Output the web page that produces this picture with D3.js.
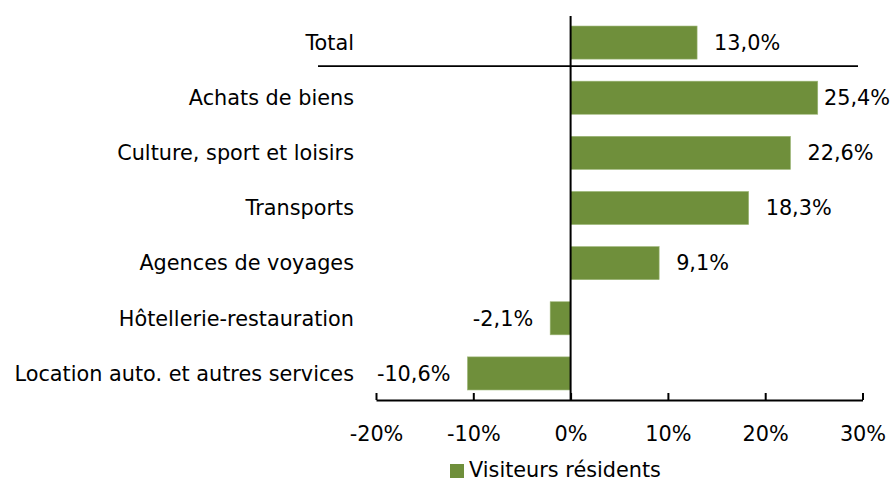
<!DOCTYPE html>
<html><head><meta charset="utf-8">
<script src="https://cdn.jsdelivr.net/npm/d3@7"></script>
<style>body{margin:0;background:#fff}svg{display:block}text{font-family:"DejaVu Sans",sans-serif;fill:#000}</style>
</head><body><svg id="c" width="896" height="483"></svg>
<script>
const categories = ["Total","Achats de biens","Culture, sport et loisirs","Transports","Agences de voyages","Hôtellerie-restauration","Location auto. et autres services"];
const values = [13.0, 25.4, 22.6, 18.3, 9.1, -2.1, -10.6];
const xTicks = [-20, -10, 0, 10, 20, 30];
const seriesName = "Visiteurs résidents";

const W = 896, H = 483, FS = 20.8;
const svg = d3.select("#c");
const x = d3.scaleLinear().domain([-20, 30]).range([376, 862.5]);
const y = d3.scaleBand().domain(categories).range([15, 401]).paddingInner(0.4).paddingOuter(0.2);
const fr = d3.formatLocale({decimal:",", thousands:" ", grouping:[3], currency:["","€"], minus:"-"});
const fmt = v => fr.format(".1f")(v) + "%";
const color = "#6f8f3b";

// bars
svg.selectAll("rect.bar").data(values).enter().append("rect")
  .attr("class","bar")
  .attr("x", d => x(Math.min(0,d)))
  .attr("width", d => Math.abs(x(d)-x(0)))
  .attr("y", (d,i) => y(categories[i]))
  .attr("height", y.bandwidth())
  .attr("fill", color).attr("stroke","#9db777").attr("stroke-width",0.6);

// category labels
svg.selectAll("text.cat").data(categories).enter().append("text")
  .attr("class","cat").attr("x", 354).attr("y", d => y(d)+y.bandwidth()/2)
  .attr("dy","0.35em").attr("text-anchor","end").attr("font-size",FS).text(d=>d);

// value labels
const gap = 17;
svg.selectAll("text.val").data(values).enter().append("text")
  .attr("class","val")
  .attr("y", (d,i) => y(categories[i])+y.bandwidth()/2).attr("dy","0.35em")
  .attr("font-size",FS)
  .attr("text-anchor", d => d<0 ? "end" : "start")
  .text(fmt)
  .each(function(d){
    const el = d3.select(this);
    let px = d<0 ? x(d)-gap : x(d)+gap;
    if (d>=0) { const w = this.getComputedTextLength(); if (px + w > W - 6) px = W - 6 - w; }
    el.attr("x", px);
  });

// vertical axis at zero
svg.append("line").attr("x1",x(0)).attr("x2",x(0)).attr("y1",16).attr("y2",401)
  .attr("stroke","#000").attr("stroke-width",2);
// separator under Total
const sepY = y(categories[1]) - 15;
svg.append("line").attr("x1",318).attr("x2",858).attr("y1",sepY).attr("y2",sepY)
  .attr("stroke","#000").attr("stroke-width",1.6);

// bottom axis
const axisY = 400;
const ax = svg.append("g").attr("transform",`translate(0,${axisY})`)
  .call(d3.axisBottom(x).tickValues(xTicks).tickSize(-7).tickSizeOuter(0).tickFormat(d=>d+"%"));
ax.select(".domain").attr("stroke","#000").attr("stroke-width",2);
ax.selectAll(".tick line").attr("stroke","#000").attr("stroke-width",2);
ax.selectAll(".tick text").attr("font-size",FS).attr("font-family","DejaVu Sans").attr("fill","#000").attr("y",41).attr("dy",0);

// legend
svg.append("rect").attr("x",450).attr("y",464).attr("width",14).attr("height",14).attr("fill",color);
svg.append("text").attr("x",469).attr("y",477).attr("font-size",FS).text(seriesName);
</script></body></html>
